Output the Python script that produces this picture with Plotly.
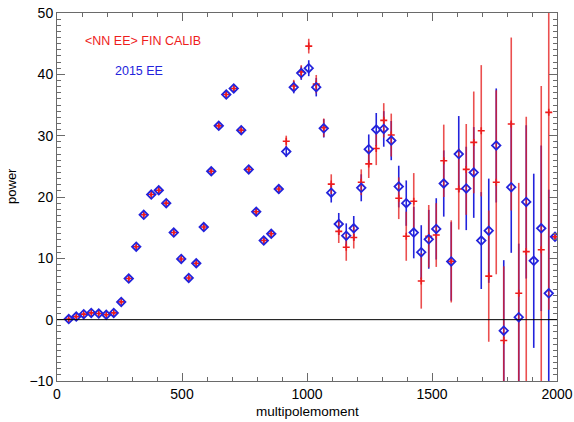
import plotly.graph_objects as go

ell = [47, 77, 107, 137, 167, 197, 227, 257, 287, 317,
       347, 377, 407, 437, 467, 497, 527, 557, 587, 617,
       647, 677, 707, 737, 767, 797, 827, 857, 887, 917,
       947, 977, 1007, 1037, 1067, 1097, 1127, 1157, 1187, 1217,
       1247, 1277, 1307, 1337, 1367, 1397, 1427, 1457, 1487, 1517,
       1547, 1577, 1607, 1637, 1667, 1697, 1727, 1757, 1787, 1817,
       1847, 1877, 1907, 1937, 1967, 1992]

ee_2015 = [0.1, 0.5, 0.9, 1.1, 1.0, 0.8, 1.1, 2.9, 6.7, 11.9,
           17.1, 20.4, 21.1, 19.0, 14.2, 9.9, 6.8, 9.2, 15.1, 24.2,
           31.6, 36.7, 37.7, 30.9, 24.5, 17.6, 12.9, 14.0, 21.3, 27.4,
           37.9, 40.2, 41.0, 37.9, 31.2, 20.7, 15.6, 13.7, 14.9, 21.5,
           27.8, 31.0, 31.1, 29.2, 21.7, 19.0, 14.2, 11.0, 13.1, 14.8,
           22.2, 9.5, 27.0, 21.4, 24.0, 12.9, 14.5, 28.4, -1.8, 21.6,
           0.4, 19.2, 9.6, 14.9, 4.3, 13.5]
ee_2015_err = [0.2, 0.2, 0.2, 0.2, 0.2, 0.2, 0.2, 0.2, 0.3, 0.3,
               0.3, 0.3, 0.3, 0.3, 0.3, 0.3, 0.3, 0.3, 0.4, 0.4,
               0.4, 0.5, 0.5, 0.5, 0.5, 0.5, 0.5, 0.6, 0.7, 0.9,
               1.0, 1.1, 1.3, 1.5, 1.5, 1.6, 1.8, 2.0, 2.0, 2.2,
               2.4, 2.7, 2.9, 3.2, 3.4, 3.7, 4.2, 4.4, 4.8, 5.0,
               5.4, 6.4, 6.2, 6.8, 7.4, 7.9, 8.5, 9.3, 11.5, 10.7,
               12.0, 12.5, 14.2, 13.5, 16.9, 0.3]

ee_nn = [0.1, 0.5, 0.9, 1.1, 1.0, 0.8, 1.1, 2.9, 6.7, 11.9,
         17.1, 20.4, 21.1, 19.0, 14.2, 9.9, 6.8, 9.2, 15.1, 24.2,
         31.6, 36.7, 37.7, 30.9, 24.5, 17.6, 12.9, 14.0, 21.3, 29.1,
         38.1, 40.4, 44.6, 38.4, 31.3, 22.1, 14.4, 11.8, 13.4, 22.4,
         25.4, 27.9, 32.5, 30.1, 19.8, 13.6, 19.3, 6.3, 13.6, 13.8,
         25.9, 9.5, 21.3, 24.5, 28.9, 30.8, 7.1, 22.4, -3.4, 31.9,
         4.3, 11.1, None, 11.4, 33.8, 13.5]
ee_nn_err = [0.2, 0.2, 0.2, 0.2, 0.2, 0.2, 0.2, 0.2, 0.3, 0.3,
             0.3, 0.3, 0.3, 0.3, 0.3, 0.3, 0.3, 0.3, 0.4, 0.4,
             0.4, 0.5, 0.5, 0.5, 0.5, 0.5, 0.5, 0.6, 0.7, 0.9,
             1.0, 1.1, 1.2, 1.5, 1.5, 1.6, 1.9, 2.2, 1.8, 2.1,
             2.3, 2.7, 2.8, 3.5, 3.4, 4.0, 4.6, 4.5, 5.1, 5.2,
             5.9, 6.7, 6.6, 7.4, 8.3, 10.7, 10.7, 15.0, 12.1, 14.1,
             18.0, 22.0, 0.0, 26.7, 32.2, 0.3]

x_ticks = [0, 500, 1000, 1500, 2000]
y_ticks = [-10, 0, 10, 20, 30, 40, 50]
x_range = [0, 2000]
y_range = [-10, 50]

RED = "#ee1c1c"
BLUE = "#2323dc"
AXC = "#6a6a6a"
FONT = "Liberation Sans, Arial, Helvetica, sans-serif"

fig = go.Figure()

# error bars (blue then red on top, semi-transparent)
fig.add_trace(go.Scatter(
    x=ell, y=ee_2015, mode="markers",
    marker=dict(color="rgba(0,0,0,0)", size=1),
    error_y=dict(type="data", array=ee_2015_err, visible=True,
                 color=BLUE, thickness=1.6, width=0),
    hoverinfo="skip", showlegend=False))
fig.add_trace(go.Scatter(
    x=ell, y=ee_nn, mode="markers",
    marker=dict(color="rgba(0,0,0,0)", size=1),
    error_y=dict(type="data", array=ee_nn_err, visible=True,
                 color="rgba(230,30,30,0.78)", thickness=1.6, width=0),
    hoverinfo="skip", showlegend=False))

# red crosses
fig.add_trace(go.Scatter(
    x=ell, y=ee_nn, mode="markers", name="<NN EE> FIN CALIB",
    marker=dict(symbol="cross-thin-open", size=5, color=RED,
                line=dict(color=RED, width=1.6)),
    showlegend=False))
# blue diamonds
fig.add_trace(go.Scatter(
    x=ell, y=ee_2015, mode="markers", name="2015 EE",
    marker=dict(symbol="diamond-open", size=6.5, color=BLUE,
                line=dict(color=BLUE, width=1.8)),
    showlegend=False))

# invisible trace to anchor the mirrored (top/right) axes
fig.add_trace(go.Scatter(x=x_range, y=y_range, xaxis="x2", yaxis="y2",
                         mode="markers", marker=dict(color="rgba(0,0,0,0)", size=1),
                         hoverinfo="skip", showlegend=False))

tick_common = dict(
    showline=True, linecolor=AXC, linewidth=1,
    ticks="inside", tickcolor=AXC, ticklen=8, tickwidth=1,
    showgrid=False, zeroline=False, automargin=False,
    tickfont=dict(family=FONT, size=14, color="black"),
)

fig.update_layout(
    xaxis=dict(range=x_range, tickvals=x_ticks,
               minor=dict(dtick=100, ticks="inside", ticklen=4, tickcolor=AXC),
               **tick_common),
    yaxis=dict(range=y_range, tickvals=y_ticks,
               minor=dict(dtick=1, ticks="inside", ticklen=4, tickcolor=AXC),
               **tick_common),
    xaxis2=dict(range=x_range, tickvals=x_ticks, overlaying="x", side="top",
                anchor="y2", showticklabels=False,
                minor=dict(dtick=100, ticks="inside", ticklen=4, tickcolor=AXC),
                **tick_common),
    yaxis2=dict(range=y_range, tickvals=y_ticks, overlaying="y", side="right",
                anchor="x2", showticklabels=False,
                minor=dict(dtick=1, ticks="inside", ticklen=4, tickcolor=AXC),
                **tick_common),
)

fig.add_hline(y=0, line=dict(color="black", width=1))

fig.add_annotation(x=104, y=45.4, xref="x", yref="y", text="&lt;NN EE&gt; FIN CALIB",
                   showarrow=False, xanchor="left", yanchor="middle",
                   font=dict(family=FONT, size=12.5, color=RED))
fig.add_annotation(x=224, y=40.6, xref="x", yref="y", text="2015 EE",
                   showarrow=False, xanchor="left", yanchor="middle",
                   font=dict(family=FONT, size=12.5, color=BLUE))

fig.add_annotation(x=-0.09, y=0.53, xref="paper", yref="paper", text="power",
                   showarrow=False, textangle=-90, xanchor="center", yanchor="middle",
                   font=dict(family=FONT, size=13, color="black"))
fig.add_annotation(x=0.5, y=-0.083, xref="paper", yref="paper", text="multipolemoment",
                   showarrow=False, xanchor="center", yanchor="middle",
                   font=dict(family=FONT, size=13.5, color="black"))

fig.update_layout(
    width=574, height=422,
    margin=dict(l=57, r=17, t=13, b=41, autoexpand=False),
    paper_bgcolor="white", plot_bgcolor="white",
    showlegend=False,
)

fig.write_html("out.html")
